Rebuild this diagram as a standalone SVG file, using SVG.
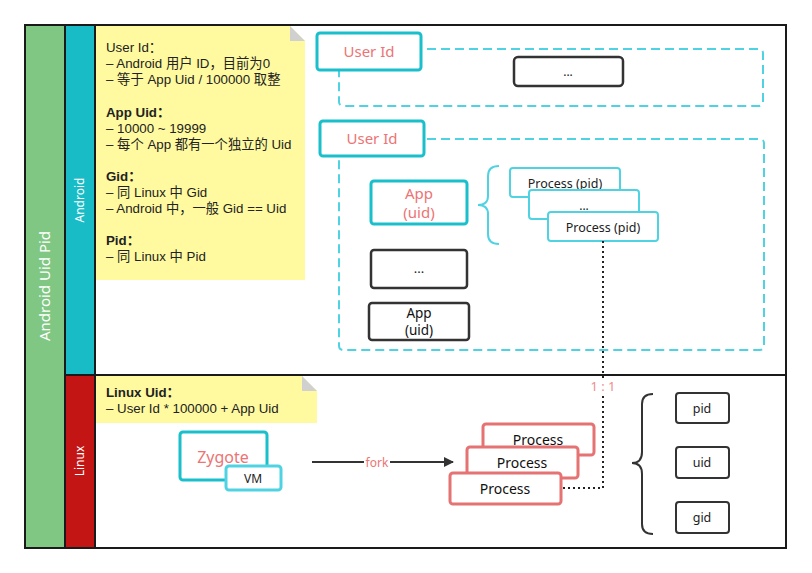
<svg xmlns="http://www.w3.org/2000/svg" width="812" height="573" viewBox="0 0 812 573">
<defs>
<style>
text{font-family:"Noto Sans","Noto Sans CJK SC",sans-serif;}
.note{font-family:"Liberation Sans","Noto Sans CJK SC",sans-serif;font-size:13.3px;fill:#222;}
.b{font-weight:bold;}
.tealbox{fill:#fff;stroke:#19bfca;stroke-width:3;}
.dash{fill:none;stroke:#4fd3e2;stroke-width:2;stroke-dasharray:9 5;}
.darkbox{fill:#fff;stroke:#333;stroke-width:2.5;}
.procpid{fill:#fff;stroke:#4fd3e2;stroke-width:2;}
.redproc{fill:#fff;stroke:#e57373;stroke-width:3;}
.redtxt{fill:#ec7474;}
.dk{fill:#222;}
.c{text-anchor:middle;}
.small{fill:#fff;stroke:#333;stroke-width:2;}
</style>
<marker id="arr" markerWidth="10" markerHeight="10" refX="9" refY="5" orient="auto" markerUnits="userSpaceOnUse" viewBox="0 0 10 10">
<path d="M0,0 L10,5 L0,10 z" fill="#333"/>
</marker>
</defs>
<rect width="812" height="573" fill="#fff"/>

<!-- swimlane bars -->
<g id="lane-main">
<rect x="25" y="25" width="40" height="523" fill="#80c783"/>
<text x="50" y="286" transform="rotate(-90 50 286)" class="c" font-size="15" fill="#fff">Android Uid Pid</text>
</g>
<g id="lane-android">
<rect x="65" y="25" width="30" height="350" fill="#17bcc6"/>
<text x="84" y="200" transform="rotate(-90 84 200)" class="c" font-size="12" fill="#fff">Android</text>
</g>
<g id="lane-linux">
<rect x="65" y="375" width="30" height="173" fill="#c41515"/>
<text x="84" y="461" transform="rotate(-90 84 461)" class="c" font-size="12" fill="#fff">Linux</text>
</g>
<g id="frame" fill="none" stroke="#1a1a1a" stroke-width="2">
<rect x="25" y="25" width="761" height="523"/>
<line x1="65" y1="25" x2="65" y2="548"/>
<line x1="95" y1="25" x2="95" y2="548"/>
<line x1="65" y1="375" x2="786" y2="375"/>
</g>

<!-- notes -->
<g id="note-android">
<path d="M96,26 H290 L305,41 V280 H96 Z" fill="#fffaa0"/>
<path d="M290,26 L305,41 H290 Z" fill="#d0d0d0"/>
<text class="note" x="106" y="52">User Id：</text>
<text class="note" x="106" y="68">– Android 用户 ID，目前为0</text>
<text class="note" x="106" y="84">– 等于 App Uid / 100000 取整</text>
<text class="note b" x="106" y="117">App Uid：</text>
<text class="note" x="106" y="133">– 10000 ~ 19999</text>
<text class="note" x="106" y="149">– 每个 App 都有一个独立的 Uid</text>
<text class="note b" x="106" y="181">Gid：</text>
<text class="note" x="106" y="197">– 同 Linux 中 Gid</text>
<text class="note" x="106" y="213">– Android 中，一般 Gid == Uid</text>
<text class="note b" x="106" y="245">Pid：</text>
<text class="note" x="106" y="261">– 同 Linux 中 Pid</text>
</g>
<g id="note-linux">
<path d="M96,376 H302 L317,391 V423 H96 Z" fill="#fffaa0"/>
<path d="M302,376 L317,391 H302 Z" fill="#d0d0d0"/>
<text class="note b" x="106" y="397">Linux Uid：</text>
<text class="note" x="106" y="413">– User Id * 100000 + App Uid</text>
</g>

<!-- dashed user containers -->
<g id="user1">
<rect class="dash" x="339" y="49" width="424" height="57" rx="4"/>
<rect class="tealbox" x="317" y="33" width="104" height="37" rx="3"/>
<text class="redtxt c" x="369" y="57" font-size="15">User Id</text>
</g>
<g id="user1-more">
<rect class="darkbox" x="514" y="57" width="109" height="29" rx="4"/>
<text class="c dk" x="568" y="76" font-size="12">...</text>
</g>
<g id="user2">
<rect class="dash" x="339" y="139" width="425" height="211" rx="4"/>
<rect class="tealbox" x="320" y="121" width="104" height="35" rx="3"/>
<text class="redtxt c" x="372" y="144" font-size="15">User Id</text>
</g>
<g id="app1">
<rect class="tealbox" x="371" y="181" width="96" height="43" rx="3"/>
<text class="redtxt c" x="419" y="199" font-size="15">App</text>
<text class="redtxt c" x="419" y="218" font-size="15">(uid)</text>
</g>
<g id="app-more">
<rect class="darkbox" x="371" y="250" width="96" height="38" rx="3" stroke-width="3"/>
<text class="c dk" x="419" y="273" font-size="13">...</text>
</g>
<g id="app2">
<rect class="darkbox" x="369" y="303" width="100" height="37" rx="3" stroke-width="3"/>
<text class="c" fill="#111" x="419" y="318" font-size="13.5">App</text>
<text class="c" fill="#111" x="419" y="335" font-size="13.5">(uid)</text>
</g>
<g id="brace-app">
<path d="M499,166 Q488,166 488,176 V196 Q488,205 478,205 Q488,205 488,214 V234 Q488,244 499,244" fill="none" stroke="#4fd3e2" stroke-width="2"/>
</g>
<g id="proc-pid-1">
<rect class="procpid" x="510" y="168" width="110" height="29" rx="3"/>
<text class="c dk" x="565" y="188" font-size="12.5">Process (pid)</text>
</g>
<g id="proc-pid-2">
<rect class="procpid" x="529" y="190" width="110" height="29" rx="3"/>
<text class="c dk" x="584" y="210" font-size="12">...</text>
</g>
<g id="proc-pid-3">
<rect class="procpid" x="548" y="212" width="110" height="29" rx="3"/>
<text class="c dk" x="603" y="232" font-size="12.5">Process (pid)</text>
</g>

<!-- linux -->
<g id="zygote">
<rect class="tealbox" x="180" y="432" width="87" height="48" rx="3"/>
<text class="redtxt c" x="223" y="463" font-size="16">Zygote</text>
</g>
<g id="vm">
<rect x="226" y="466" width="55" height="24" rx="3" fill="#fff" stroke="#4fd3e2" stroke-width="3"/>
<text class="c dk" x="253" y="483" font-size="12">VM</text>
</g>
<g id="proc-linux-1">
<rect class="redproc" x="483" y="424" width="111" height="31" rx="3"/>
<text class="c" fill="#111" x="538" y="445" font-size="14">Process</text>
</g>
<g id="proc-linux-2">
<rect class="redproc" x="467" y="447" width="111" height="31" rx="3"/>
<text class="c" fill="#111" x="522" y="468" font-size="14">Process</text>
</g>
<g id="proc-linux-3">
<rect class="redproc" x="450" y="473" width="111" height="31" rx="3"/>
<text class="c" fill="#111" x="505" y="494" font-size="14">Process</text>
</g>
<g id="brace-attrs">
<path d="M653,394 Q642,394 642,404 V452 Q642,463 632,463 Q642,463 642,474 V524 Q642,534 653,534" fill="none" stroke="#333" stroke-width="2"/>
</g>
<g id="pid">
<rect class="small" x="676" y="393" width="53" height="30" rx="3"/>
<text class="c dk" x="702" y="413" font-size="12.5">pid</text>
</g>
<g id="uid">
<rect class="small" x="676" y="447" width="53" height="31" rx="3"/>
<text class="c dk" x="702" y="467" font-size="12.5">uid</text>
</g>
<g id="gid">
<rect class="small" x="676" y="502" width="53" height="31" rx="3"/>
<text class="c dk" x="702" y="522" font-size="12.5">gid</text>
</g>

<!-- connectors -->
<g id="connectors">
<line x1="312" y1="462" x2="453" y2="462" stroke="#333" stroke-width="2" marker-end="url(#arr)"/>
<rect x="364" y="455" width="26" height="14" fill="#fff"/>
<text class="redtxt c" x="377" y="467" font-size="12">fork</text>
<polyline points="603,241 603,488 561,488" fill="none" stroke="#222" stroke-width="2" stroke-dasharray="2 3"/>
<rect x="589" y="378" width="29" height="16" fill="#fff"/>
<text class="c" fill="#f08c8c" x="603" y="391" font-size="13">1 : 1</text>
</g>
</svg>
